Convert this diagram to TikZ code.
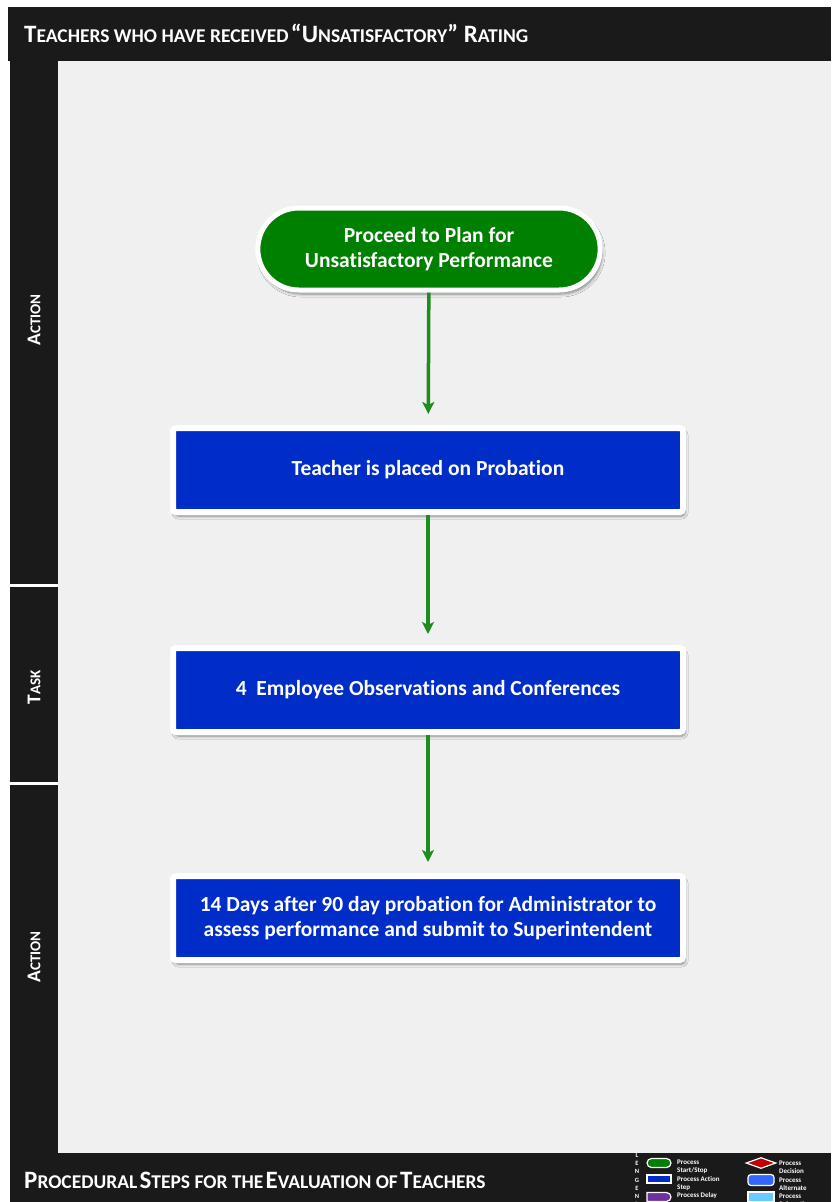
\documentclass[tikz,border=0pt]{standalone}
\usepackage{fontspec}
\setmainfont{Carlito}[Ligatures=NoCommon]
\usetikzlibrary{shadows,shadows.blur,arrows.meta,shapes.misc,shapes.geometric}
\definecolor{barblack}{HTML}{1A1A1A}
\definecolor{panel}{HTML}{F0F0F0}
\definecolor{startgreen}{HTML}{008000}
\definecolor{stepblue}{HTML}{002CC8}
\definecolor{arrowgreen}{HTML}{1E8C1E}
\definecolor{altblue}{HTML}{3366FF}
\definecolor{delaypurple}{HTML}{7030A0}
\definecolor{decred}{HTML}{C00000}
\definecolor{subblue}{HTML}{66CCFF}
\newcommand\myscap[4]{{\fontsize{#1}{#1}\selectfont #3}{\fontsize{#2}{#2}\selectfont #4}}
\tikzset{
  softshadow/.style={blur shadow={shadow xshift=2pt, shadow yshift=-4pt, shadow blur steps=6, shadow blur radius=3pt, shadow opacity=45}},
  startstop/.style={rounded rectangle, draw=white, line width=5pt, fill=startgreen,
    minimum width=349pt, minimum height=82pt, text=white, align=center,
    font=\fontsize{21.5}{25}\selectfont\bfseries, softshadow},
  stepbox/.style={rectangle, rounded corners=3pt, draw=white, line width=6pt, fill=stepblue,
    minimum width=510pt, minimum height=84pt, text=white, align=center,
    font=\fontsize{21.5}{25}\selectfont\bfseries, softshadow},
  flowarrow/.style={draw=arrowgreen, line width=3.5pt, -{Stealth[length=12pt,width=12pt,inset=3pt]}, shorten >=11pt},
  lanelabel/.style={rotate=90, text=white, font=\bfseries},
  legtext/.style={anchor=west, text=white, align=left, font=\fontsize{7}{8}\selectfont\bfseries, inner sep=0pt},
  legshape/.style={draw=white, line width=1.2pt},
}
\begin{document}
\begin{tikzpicture}[x=1pt,y=-1pt]
\useasboundingbox (0,0) rectangle (831,1202);
\fill[white] (0,0) rectangle (831,1202);
% frame
\fill[barblack] (8,7) rectangle (831,61);
\fill[barblack] (10,61) rectangle (58,1153);
\fill[panel] (58,61) rectangle (831,1153);
\fill[barblack] (10,1153) rectangle (831,1202);
\draw[white, line width=3pt] (10,585) -- (58,585);
\draw[white, line width=3pt] (10,783) -- (58,783);
% titles
\node[anchor=base west, text=white, inner sep=0pt, font=\bfseries] (title) at (24,42)
  {\myscap{25}{19.5}{T}{EACHERS WHO HAVE RECEIVED} \myscap{25}{19.5}{``U}{NSATISFACTORY}\myscap{25}{19.5}{'' R}{ATING}};
\node[anchor=base west, text=white, inner sep=0pt, font=\bfseries] (footer) at (24,1188)
  {\myscap{25}{19.5}{P}{ROCEDURAL} \myscap{25}{19.5}{S}{TEPS FOR THE} \myscap{25}{19.5}{E}{VALUATION OF} \myscap{25}{19.5}{T}{EACHERS}};
% lane labels
\node[lanelabel] (lane1) at (34,320) {\myscap{19.5}{15}{A}{CTION}};
\node[lanelabel] (lane2) at (34,687) {\myscap{19.5}{15}{T}{ASK}};
\node[lanelabel] (lane3) at (34,957) {\myscap{19.5}{15}{A}{CTION}};
% flow
\node[startstop] (start) at (429,249) {Proceed to Plan for\\Unsatisfactory Performance};
\node[stepbox] (probation) at (428,470) {Teacher is placed on Probation};
\node[stepbox] (observe) at (428,690) {4\ \ Employee Observations and Conferences};
\node[stepbox] (assess) at (428,918) {14 Days after 90 day probation for Administrator to\\assess performance and submit to Superintendent};
\draw[flowarrow] (start) -- (probation);
\draw[flowarrow] (probation) -- (observe);
\draw[flowarrow] (observe) -- (assess);
% legend
\node[anchor=north, text=white, align=center, inner sep=0pt, font=\fontsize{6.5}{8.2}\selectfont\bfseries] (legword) at (637,1153) {L\\E\\N\\G\\E\\N\\D};
\node[legshape, rounded rectangle, fill=startgreen, minimum width=24pt, minimum height=9pt, inner sep=0pt] (lgstart) at (659,1163) {};
\node[legshape, rectangle, fill=stepblue, minimum width=24pt, minimum height=8pt, inner sep=0pt] (lgstep) at (659,1179) {};
\node[legshape, rounded rectangle, rounded rectangle left arc=none, fill=delaypurple, minimum width=24pt, minimum height=9pt, inner sep=0pt] (lgdelay) at (659,1197) {};
\node[legshape, diamond, aspect=2.6, fill=decred, minimum width=30pt, minimum height=11pt, inner sep=0pt] (lgdec) at (761,1163) {};
\node[legshape, rectangle, rounded corners=3pt, fill=altblue, minimum width=26pt, minimum height=11pt, inner sep=0pt] (lgalt) at (761,1180) {};
\node[legshape, rectangle, fill=subblue, minimum width=26pt, minimum height=10pt, inner sep=0pt] (lgsub) at (761,1197) {};
\node[legtext] (tstart) at (677,1167) {Process\\Start/Stop};
\node[legtext] (tstep) at (677,1184) {Process Action\\Step};
\node[legtext] (tdelay) at (677,1196) {Process Delay};
\node[legtext] (tdec) at (779,1167) {Process\\Decision};
\node[legtext] (talt) at (779,1184) {Process\\Alternate};
\node[legtext] (tsub) at (779,1200) {Process\\Subroutine};
\end{tikzpicture}
\end{document}
